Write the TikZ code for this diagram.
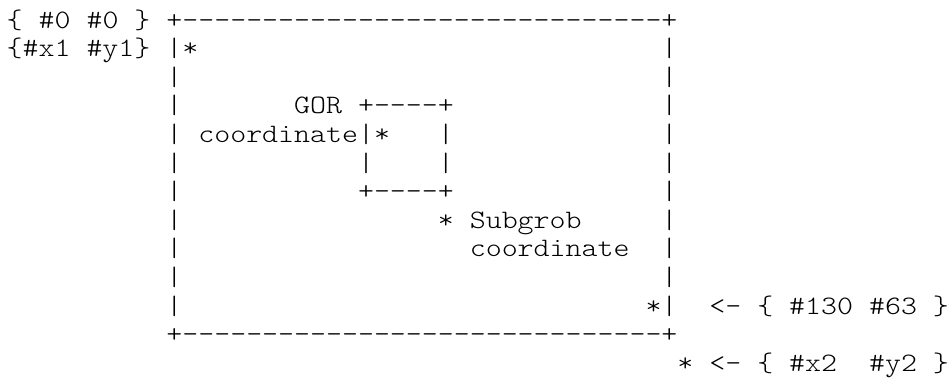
\documentclass[tikz,border=0pt]{standalone}
\usepackage{fontspec}
\setmonofont{lmmonolt10-regular.otf}[FakeStretch=1.1436]
\begin{document}
\begin{tikzpicture}[x=15.97pt,y=-28.6pt,
  ch/.style={anchor=base west, inner sep=0pt, outer sep=0pt,
    font=\ttfamily\fontsize{26.6}{28.6}\selectfont, text=black}]
\useasboundingbox[fill=white] (-0.4195,-0.979) rectangle (59.067,12.203);
% labels on the left
\node[ch] (lbl0) at (0,0) {\{ \#0 \#0 \}};
\node[ch] (lbl1) at (0,1) {\{\#x1 \#y1\}};
% outer box
\node[ch] (topedge) at (10,0) {+------------------------------+};
\foreach \r in {1,...,10}{
  \node[ch] (lb\r) at (10,\r) {|};
  \node[ch] (rb\r) at (41,\r) {|};
}
\node[ch] (botedge) at (10,11) {+------------------------------+};
\node[ch] (p1) at (11,1) {*};
% inner box (GOR)
\node[ch] (gor) at (18,3) {GOR};
\node[ch] (gortop) at (22,3) {+----+};
\node[ch] (gorcoord) at (12,4) {coordinate};
\node[ch] (gl4) at (22,4) {|};
\node[ch] (gp) at (23,4) {*};
\node[ch] (gr4) at (27,4) {|};
\node[ch] (gl5) at (22,5) {|};
\node[ch] (gr5) at (27,5) {|};
\node[ch] (gorbot) at (22,6) {+----+};
% subgrob coordinate
\node[ch] (sp) at (27,7) {*};
\node[ch] (sub1) at (29,7) {Subgrob};
\node[ch] (sub2) at (29,8) {coordinate};
% corner points
\node[ch] (p130) at (40,10) {*};
\node[ch] (l130) at (44,10) {<- \{ \#130 \#63 \}};
\node[ch] (p2) at (42,12) {*};
\node[ch] (l2a) at (44,12) {<- \{ \#x2};
\node[ch] (l2b) at (54,12) {\#y2 \}};
\end{tikzpicture}
\end{document}
